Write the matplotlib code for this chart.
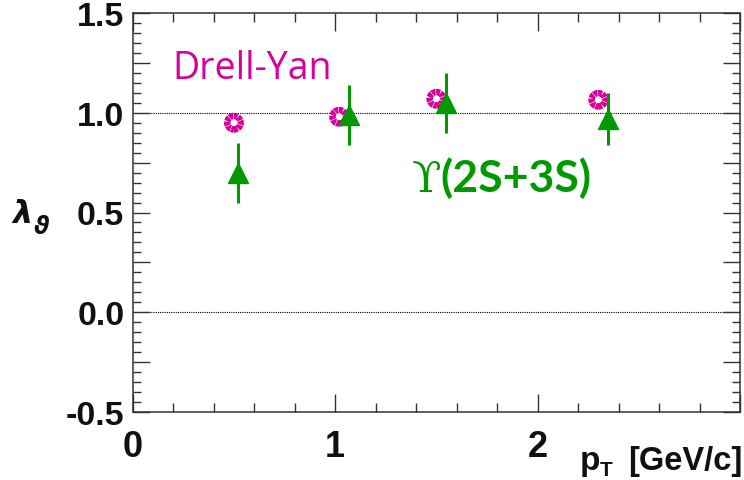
import matplotlib
matplotlib.use("Agg")
import matplotlib.pyplot as plt
from matplotlib.ticker import MultipleLocator, FuncFormatter

# Polarization parameter lambda_theta vs transverse momentum
pt_dy = [0.50, 1.02, 1.50, 2.30]
lam_dy = [0.95, 0.98, 1.07, 1.065]

pt_ups = [0.52, 1.07, 1.55, 2.35]
lam_ups = [0.70, 0.99, 1.05, 0.97]
err_ups = [0.15, 0.15, 0.15, 0.13]

x_ticks = [0, 1, 2]

MAGENTA = "#d9009a"
GREEN = "#009a00"
INK = "#111111"

plt.rcParams["mathtext.fontset"] = "custom"
plt.rcParams["mathtext.it"] = "DejaVu Sans:bold:italic"
plt.rcParams["mathtext.rm"] = "DejaVu Sans:bold"

W, H = 744, 481
fig = plt.figure(figsize=(W / 100, H / 100), dpi=100)
ax = fig.add_axes([132.7 / W, 1 - 413 / H, (740 - 132.7) / W, (413 - 14) / H])


def fx(px):
    return px / W


def fy(py):
    return 1 - py / H


ax.set_xlim(0, 3)
ax.set_ylim(-0.5, 1.5)

# reference lines
for yv in (0.0, 1.0):
    ax.axhline(yv, color="black", lw=0.8, ls=(0, (1, 1)), zorder=1)

# Drell-Yan: open rings
ax.scatter(pt_dy, lam_dy, s=95, facecolors="white", edgecolors=MAGENTA,
           linewidths=4.6, linestyles=(0, (0.6, 0.09)), zorder=3)

# Upsilon(2S+3S): filled triangles with error bars
ax.errorbar(pt_ups, lam_ups, yerr=err_ups, fmt="^", color=GREEN,
            ms=14, mec=GREEN, mfc=GREEN, elinewidth=2.2, capsize=0, zorder=4)

# axis ticks
ax.xaxis.set_major_locator(MultipleLocator(1))
ax.xaxis.set_minor_locator(MultipleLocator(0.2))
ax.yaxis.set_major_locator(MultipleLocator(0.25))
ax.yaxis.set_minor_locator(MultipleLocator(0.05))
ax.xaxis.set_major_formatter(FuncFormatter(
    lambda v, p: f"{v:.0f}" if round(v) in x_ticks and abs(v - round(v)) < 1e-6 else ""))
ax.yaxis.set_major_formatter(FuncFormatter(
    lambda v, p: f"{v:.1f}" if abs(v * 2 - round(v * 2)) < 1e-6 else ""))

ax.tick_params(axis="both", which="both", direction="in", top=True, right=True,
               color="#333333", width=1.0)
ax.tick_params(axis="x", which="major", length=13, pad=12)
ax.tick_params(axis="x", which="minor", length=6.5)
ax.tick_params(axis="y", which="major", length=12, pad=6)
ax.tick_params(axis="y", which="minor", length=5.5)

for lab in ax.get_xticklabels():
    lab.set_fontfamily("Liberation Sans")
    lab.set_fontweight("bold")
    lab.set_fontsize(26)
    lab.set_color(INK)
for lab in ax.get_yticklabels():
    lab.set_fontfamily("Liberation Sans")
    lab.set_fontweight("bold")
    lab.set_fontsize(24.5)
    lab.set_color(INK)

for sp in ax.spines.values():
    sp.set_color("#333333")
    sp.set_linewidth(1.1)

# y axis title: lambda with theta subscript
fig.text(fx(11), fy(223), r"$\lambda$", fontsize=23, ha="left", va="baseline",
         color=INK)
fig.text(fx(33), fy(234), r"$\vartheta$", fontsize=17, ha="left", va="baseline",
         color=INK)

# x axis title: p_T [GeV/c]
fig.text(fx(580), fy(470), "p", fontsize=24, ha="left", va="baseline",
         fontfamily="Liberation Sans", fontweight="bold", color=INK)
fig.text(fx(600), fy(476.5), "T", fontsize=15, ha="left", va="baseline",
         fontfamily="Liberation Sans", fontweight="bold", color=INK)
fig.text(fx(743), fy(470), "[GeV/c]", fontsize=23.5, ha="right", va="baseline",
         fontfamily="Liberation Sans", fontweight="bold", color=INK)

# series labels
fig.text(fx(172.7), fy(79.3), "Drell-Yan", fontsize=27, ha="left",
         va="baseline", color=MAGENTA, fontfamily="Open Sans")
fig.text(fx(411.5), fy(191.7), "\u03d2", fontsize=31, ha="left",
         va="baseline", color=GREEN, fontfamily="DejaVu Serif")
fig.text(fx(440), fy(191.7), "(2S+3S)", fontsize=32, ha="left",
         va="baseline", color=GREEN, fontfamily="Lato", fontweight="bold")

fig.savefig("out.png", dpi=100)
